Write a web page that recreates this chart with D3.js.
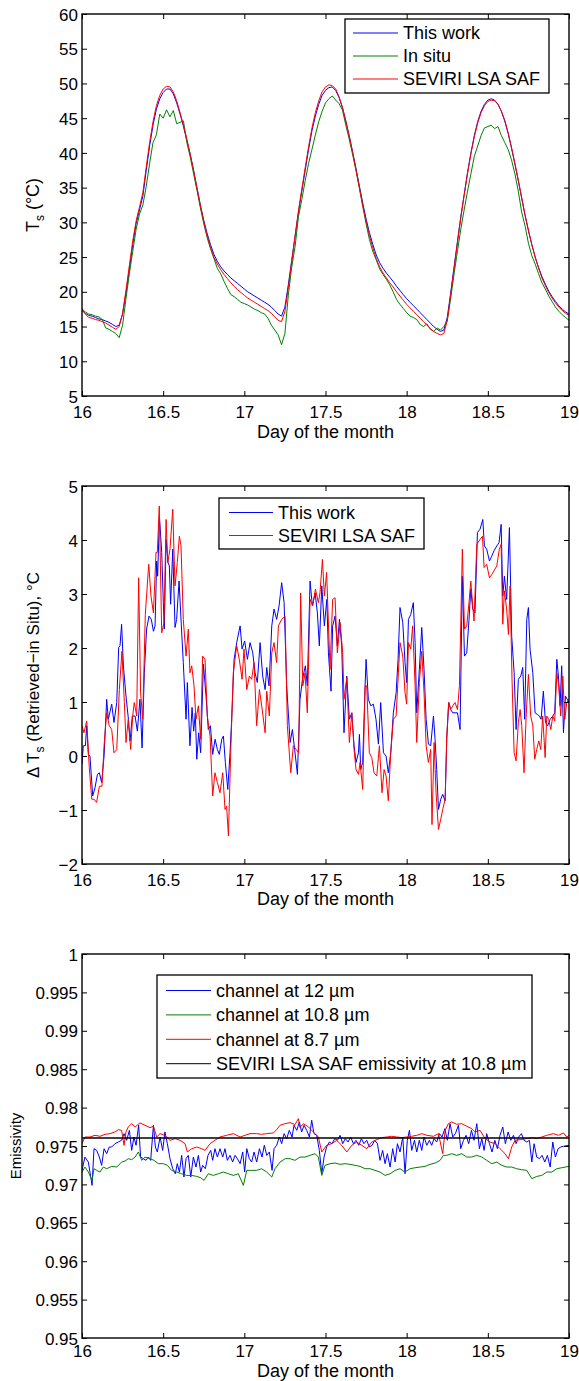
<!DOCTYPE html>
<html>
<head>
<meta charset="utf-8">
<script src="https://cdn.jsdelivr.net/npm/d3@7"></script>
<style>
  html, body { margin: 0; padding: 0; background: #fff; }
  svg { display: block; }
  text { font-family: "Liberation Sans", Arial, Helvetica, sans-serif; fill: #000; }
</style>
</head>
<body>
<svg id="chart" width="579" height="1381"></svg>
<script>
// ---------------- DATA ----------------
const dayTicks = [16, 16.5, 17, 17.5, 18, 18.5, 19];
const dayTickLabels = ["16", "16.5", "17", "17.5", "18", "18.5", "19"];

// Panel 1: surface temperature, 30-minute grid starting at day 16.0
const tsStartDay = 16;
const tsStepDays = 1 / 48;
const tsThisWork = [
  17.3,16.9,16.6,16.5,16.3,16.1,16.0,15.8,15.6,15.3,15.0,15.2,16.8,19.8,23.2,26.8,29.8,31.8,33.8,37.5,41.0,44.0,46.3,47.8,
  48.7,49.2,49.2,48.5,47.2,45.6,43.8,41.8,39.8,37.5,35.0,32.5,30.3,28.4,26.8,25.4,24.4,23.6,23.0,22.5,22.0,21.6,21.2,20.8,
  20.4,20.0,19.7,19.4,19.1,18.8,18.5,18.2,17.8,17.3,16.8,16.5,17.8,21.0,24.5,28.0,31.5,34.5,37.5,40.5,43.2,45.3,47.0,48.3,
  49.0,49.4,49.5,49.0,48.0,46.5,44.6,42.5,40.2,37.8,35.3,32.8,30.5,28.5,26.8,25.3,24.2,23.4,22.7,22.1,21.5,20.8,20.2,19.6,
  19.0,18.5,18.0,17.5,17.0,16.5,16.0,15.5,15.0,14.6,14.3,14.5,16.3,19.8,23.5,27.2,30.8,34.0,37.2,40.0,42.5,44.5,46.0,47.0,
  47.6,47.8,47.6,47.0,46.0,44.6,42.8,40.7,38.4,36.0,33.5,31.0,28.8,26.8,25.0,23.5,22.2,21.1,20.1,19.3,18.6,18.0,17.5,17.1,
  16.8
];
const tsInSitu = [
  17.5,17.1,16.8,16.7,16.5,16.4,16.0,14.8,14.6,14.3,14.0,13.4,15.2,19.0,22.6,25.8,29.0,31.2,32.5,35.2,38.5,41.5,42.6,45.6,
  45.0,46.2,45.2,46.1,44.2,44.4,44.6,41.5,39.4,37.0,34.6,32.1,29.8,27.8,26.2,24.8,23.4,22.6,21.5,20.5,19.6,19.3,18.9,18.5,
  18.3,18.1,17.8,17.5,17.3,17.0,16.8,16.2,15.2,14.5,13.8,12.4,14.0,19.5,23.5,26.5,30.8,33.3,36.0,38.5,40.5,42.6,44.5,46.0,
  47.2,47.8,48.2,47.6,47.1,46.2,44.0,42.0,39.8,37.5,35.0,32.3,29.8,27.5,25.8,24.6,23.3,22.5,21.8,21.0,20.0,18.9,18.2,17.6,
  17.0,16.5,16.3,16.0,15.3,15.0,15.4,14.6,14.3,14.8,14.5,15.0,15.8,19.0,22.5,25.8,29.0,31.8,34.5,37.0,39.5,41.0,42.5,43.6,
  43.8,44.0,43.5,43.8,42.5,41.5,40.5,39.0,37.0,34.5,31.5,29.5,27.0,25.2,24.0,22.6,21.3,20.4,19.4,18.6,17.8,17.2,16.7,16.3,
  15.9
];
const tsSeviri = [
  17.5,16.8,16.3,16.2,16.0,15.9,15.7,15.5,15.2,14.9,14.6,15.0,16.9,20.2,23.8,27.3,30.2,32.2,34.3,38.0,41.5,44.5,46.8,48.3,
  49.2,49.6,49.5,48.8,47.5,45.8,44.0,42.0,39.8,37.4,34.9,32.4,30.1,28.1,26.4,25.0,24.0,23.2,22.5,21.9,21.3,20.8,20.3,19.9,
  19.5,19.1,18.8,18.5,18.2,17.9,17.6,17.3,16.9,16.4,15.9,15.7,17.2,20.6,24.3,28.0,31.6,34.8,37.9,40.9,43.6,45.8,47.5,48.8,
  49.5,49.8,49.7,49.2,48.1,46.6,44.6,42.4,40.1,37.6,35.0,32.5,30.2,28.1,26.3,24.8,23.6,22.7,22.0,21.3,20.7,20.0,19.4,18.8,
  18.2,17.7,17.2,16.7,16.2,15.7,15.2,14.7,14.3,14.0,13.8,14.0,15.9,19.5,23.3,27.0,30.6,33.9,37.0,39.9,42.3,44.3,45.8,46.8,
  47.4,47.6,47.5,47.0,46.0,44.7,42.9,40.8,38.5,36.1,33.6,31.1,28.9,26.8,25.0,23.4,22.0,20.9,19.9,19.1,18.4,17.8,17.3,16.9,
  16.6
];
const tsTicks = [5,10,15,20,25,30,35,40,45,50,55,60];

// Panel 2: Delta Ts (retrieved - in situ), [day, degC]
const dtThisWork = [
  [16.000,-0.15],[16.008,0.19],[16.021,0.19],[16.029,0.56],[16.039,0.03],[16.049,0.00],[16.066,-0.74],[16.080,-0.59],
  [16.095,-0.34],[16.107,-0.31],[16.121,-0.49],[16.136,0.00],[16.152,1.05],[16.162,0.68],[16.183,0.96],[16.197,0.62],
  [16.214,0.99],[16.226,2.01],[16.234,2.04],[16.244,2.44],[16.255,1.67],[16.271,1.11],[16.286,0.68],[16.296,0.28],
  [16.310,0.74],[16.327,0.74],[16.341,0.46],[16.357,1.05],[16.370,0.15],[16.384,1.54],[16.398,2.35],[16.413,2.59],
  [16.427,2.53],[16.440,2.31],[16.450,2.41],[16.460,3.61],[16.466,3.33],[16.477,4.44],[16.491,3.77],[16.501,2.84],
  [16.507,2.35],[16.518,4.01],[16.530,3.58],[16.538,3.52],[16.546,2.81],[16.559,3.83],[16.573,2.38],[16.583,2.53],
  [16.598,3.24],[16.612,2.41],[16.624,1.73],[16.641,0.68],[16.649,1.36],[16.665,0.19],[16.678,0.90],[16.688,0.46],
  [16.698,0.80],[16.707,-0.06],[16.719,0.43],[16.731,0.06],[16.748,1.70],[16.764,1.11],[16.778,0.49],[16.791,0.56],
  [16.805,0.03],[16.820,0.31],[16.834,0.12],[16.846,0.03],[16.861,0.31],[16.871,0.37],[16.883,-0.12],[16.898,-0.62],
  [16.912,0.06],[16.922,0.68],[16.937,1.79],[16.953,2.10],[16.974,2.41],[16.986,1.98],[17.002,2.13],[17.019,1.79],
  [17.035,2.10],[17.052,1.91],[17.066,1.54],[17.080,1.36],[17.097,2.10],[17.113,1.48],[17.128,1.23],[17.138,1.64],
  [17.152,1.30],[17.169,2.41],[17.183,2.72],[17.199,2.53],[17.214,2.78],[17.230,3.21],[17.245,2.84],[17.261,1.30],
  [17.282,0.25],[17.296,0.49],[17.310,0.12],[17.327,-0.34],[17.343,1.05],[17.358,1.42],[17.376,1.67],[17.388,1.30],
  [17.405,3.24],[17.419,2.78],[17.436,3.02],[17.450,2.65],[17.462,2.04],[17.477,3.15],[17.493,2.41],[17.508,2.90],
  [17.518,1.91],[17.534,1.20],[17.544,2.41],[17.559,2.59],[17.573,2.04],[17.586,2.53],[17.600,2.04],[17.614,0.43],
  [17.631,1.48],[17.647,0.68],[17.662,0.80],[17.676,0.19],[17.688,-0.12],[17.703,0.06],[17.709,0.40],[17.717,-0.25],
  [17.729,-0.12],[17.744,1.30],[17.750,1.79],[17.764,1.05],[17.779,0.93],[17.795,0.96],[17.811,0.68],[17.826,0.22],
  [17.840,0.99],[17.857,0.06],[17.873,0.00],[17.887,-0.31],[17.902,0.06],[17.918,0.80],[17.935,1.17],[17.947,1.79],
  [17.959,2.75],[17.976,2.47],[17.990,1.73],[18.000,1.36],[18.011,2.53],[18.025,2.62],[18.041,2.84],[18.052,2.10],
  [18.062,0.80],[18.078,1.60],[18.093,2.38],[18.107,1.60],[18.120,0.68],[18.134,0.22],[18.148,0.19],[18.165,0.74],
  [18.175,0.31],[18.185,-0.25],[18.196,-0.99],[18.210,-0.80],[18.222,-0.71],[18.237,-0.83],[18.247,0.31],[18.259,0.99],
  [18.271,0.86],[18.284,0.80],[18.298,0.80],[18.313,0.80],[18.329,0.49],[18.343,3.33],[18.356,1.85],[18.370,1.91],
  [18.384,2.53],[18.395,3.09],[18.407,2.72],[18.421,2.65],[18.436,4.14],[18.452,4.20],[18.469,4.38],[18.479,3.89],
  [18.493,3.83],[18.510,3.61],[18.524,3.70],[18.538,3.80],[18.555,3.89],[18.569,3.95],[18.582,4.29],[18.592,2.96],
  [18.602,3.33],[18.616,2.90],[18.633,4.23],[18.647,2.22],[18.662,1.54],[18.674,0.49],[18.688,1.42],[18.703,1.48],
  [18.715,1.64],[18.727,0.68],[18.740,2.53],[18.750,2.75],[18.760,1.98],[18.777,1.54],[18.791,0.80],[18.805,0.77],
  [18.818,0.74],[18.828,0.68],[18.842,1.20],[18.855,0.62],[18.869,0.56],[18.884,0.68],[18.900,0.74],[18.912,0.80],
  [18.925,1.79],[18.935,1.48],[18.945,0.93],[18.955,1.67],[18.966,0.43],[18.978,1.11],[19.000,0.99]
];
const dtSeviri = [
  [16.000,0.56],[16.012,0.43],[16.029,0.65],[16.045,-0.22],[16.060,-0.80],[16.074,-0.80],[16.090,-0.86],[16.107,-0.56],
  [16.123,-0.56],[16.136,0.19],[16.152,0.80],[16.168,0.56],[16.183,0.49],[16.197,0.06],[16.214,0.12],[16.230,1.23],
  [16.246,1.94],[16.261,0.99],[16.271,0.25],[16.285,0.68],[16.300,0.12],[16.312,0.74],[16.322,0.99],[16.337,0.74],
  [16.349,3.30],[16.361,1.17],[16.374,0.68],[16.390,2.62],[16.411,3.55],[16.425,2.96],[16.440,2.65],[16.456,3.77],
  [16.464,3.77],[16.476,4.63],[16.491,2.28],[16.505,2.47],[16.518,4.38],[16.528,3.58],[16.542,3.83],[16.559,4.57],
  [16.573,3.15],[16.587,3.58],[16.600,4.07],[16.610,3.89],[16.624,2.53],[16.641,1.85],[16.655,2.35],[16.665,1.54],
  [16.676,1.67],[16.690,1.30],[16.702,0.68],[16.717,0.93],[16.731,0.31],[16.743,1.85],[16.758,1.79],[16.772,0.74],
  [16.789,0.37],[16.805,-0.74],[16.819,-0.31],[16.834,-0.49],[16.850,-0.68],[16.867,-0.31],[16.881,-0.99],[16.891,-0.93],
  [16.902,-1.48],[16.916,0.06],[16.932,1.54],[16.953,2.04],[16.969,1.79],[16.986,1.42],[16.998,1.98],[17.015,1.23],
  [17.031,1.48],[17.045,1.42],[17.060,1.73],[17.076,0.56],[17.093,1.23],[17.107,0.93],[17.128,0.43],[17.138,1.20],
  [17.154,0.74],[17.169,1.91],[17.183,2.10],[17.199,1.73],[17.210,2.41],[17.230,2.53],[17.251,2.59],[17.265,0.56],
  [17.286,-0.31],[17.302,0.19],[17.319,0.12],[17.335,0.06],[17.347,3.02],[17.360,1.30],[17.374,1.54],[17.388,0.80],
  [17.405,2.90],[17.421,2.78],[17.438,3.09],[17.456,2.84],[17.466,3.02],[17.481,3.64],[17.493,2.96],[17.507,3.40],
  [17.528,1.60],[17.544,2.90],[17.559,2.93],[17.573,1.91],[17.590,2.47],[17.606,1.91],[17.614,1.05],[17.631,1.45],
  [17.647,0.25],[17.662,0.80],[17.676,0.12],[17.688,-0.25],[17.703,-0.34],[17.713,-0.12],[17.729,-0.62],[17.744,1.30],
  [17.754,1.30],[17.770,0.06],[17.785,-0.03],[17.799,-0.31],[17.816,-0.37],[17.832,0.19],[17.848,-0.68],[17.861,-0.25],
  [17.873,-0.37],[17.887,-0.83],[17.902,0.06],[17.918,0.68],[17.935,0.74],[17.949,1.54],[17.959,2.10],[17.976,1.85],
  [17.990,1.17],[18.000,0.96],[18.011,2.10],[18.025,1.98],[18.037,2.41],[18.052,1.30],[18.062,0.25],[18.078,1.36],
  [18.093,1.94],[18.107,1.17],[18.120,0.19],[18.134,-0.12],[18.148,0.12],[18.156,-1.27],[18.169,0.25],[18.181,-0.68],
  [18.196,-1.36],[18.210,-1.17],[18.222,-0.99],[18.237,-0.80],[18.247,0.37],[18.259,0.99],[18.271,0.86],[18.284,0.93],
  [18.298,0.99],[18.313,0.86],[18.325,1.30],[18.343,3.83],[18.356,2.35],[18.370,2.41],[18.384,2.84],[18.395,3.24],
  [18.407,2.78],[18.415,2.50],[18.432,3.92],[18.452,4.01],[18.467,4.07],[18.477,3.49],[18.493,3.55],[18.510,3.30],
  [18.524,3.36],[18.538,3.43],[18.555,3.52],[18.571,3.83],[18.582,3.92],[18.592,2.44],[18.602,3.06],[18.616,2.72],
  [18.627,2.25],[18.637,3.15],[18.649,1.42],[18.662,0.06],[18.674,-0.09],[18.688,0.62],[18.699,0.86],[18.709,0.56],
  [18.723,-0.31],[18.736,0.74],[18.750,1.51],[18.764,0.74],[18.777,0.56],[18.789,-0.06],[18.801,0.12],[18.814,0.28],
  [18.826,0.12],[18.838,0.74],[18.853,-0.03],[18.863,0.74],[18.875,0.68],[18.888,0.49],[18.900,0.74],[18.912,0.65],
  [18.925,1.54],[18.937,1.30],[18.949,0.74],[18.962,1.48],[18.974,0.68],[18.986,0.99],[19.000,1.05]
];
const dtTicks = [-2,-1,0,1,2,3,4,5];
const dtTickLabels = ["\u22122","\u22121","0","1","2","3","4","5"];

// Panel 3: emissivity, [day, emissivity]
const em12 = [
  [16.000,0.97183],[16.018,0.97356],[16.039,0.97291],[16.049,0.97161],[16.062,0.96987],[16.074,0.97465],[16.090,0.97443],
  [16.107,0.97356],[16.121,0.97248],[16.136,0.97465],[16.152,0.97400],[16.168,0.97487],[16.183,0.97487],[16.203,0.97530],
  [16.224,0.97552],[16.244,0.97574],[16.259,0.97661],[16.275,0.97574],[16.292,0.97704],[16.306,0.97443],[16.320,0.97617],
  [16.333,0.97509],[16.349,0.97770],[16.361,0.97356],[16.378,0.97335],[16.394,0.97313],[16.409,0.97356],[16.423,0.97313],
  [16.440,0.97770],[16.452,0.97487],[16.464,0.97422],[16.481,0.97617],[16.497,0.97443],[16.511,0.97683],[16.526,0.97530],
  [16.542,0.97335],[16.559,0.97204],[16.575,0.97139],[16.587,0.97270],[16.600,0.97161],[16.614,0.97378],[16.628,0.97096],
  [16.641,0.97335],[16.655,0.97378],[16.670,0.97096],[16.686,0.97356],[16.702,0.97226],[16.717,0.97378],[16.731,0.97161],
  [16.743,0.97248],[16.760,0.97204],[16.776,0.97378],[16.793,0.97443],[16.805,0.97313],[16.819,0.97465],[16.834,0.97356],
  [16.850,0.97465],[16.867,0.97356],[16.881,0.97465],[16.895,0.97313],[16.912,0.97378],[16.928,0.97291],[16.943,0.97378],
  [16.957,0.97335],[16.974,0.97270],[16.990,0.97422],[17.002,0.97161],[17.015,0.97465],[17.031,0.97335],[17.045,0.97291],
  [17.060,0.97422],[17.076,0.97291],[17.093,0.97465],[17.109,0.97356],[17.123,0.97509],[17.138,0.97378],[17.154,0.97422],
  [17.171,0.97183],[17.183,0.97465],[17.199,0.97509],[17.216,0.97617],[17.230,0.97530],[17.245,0.97661],[17.261,0.97596],
  [17.277,0.97704],[17.294,0.97617],[17.306,0.97770],[17.323,0.97704],[17.339,0.97813],[17.353,0.97683],[17.368,0.97770],
  [17.384,0.97704],[17.401,0.97617],[17.415,0.97835],[17.429,0.97661],[17.446,0.97639],[17.462,0.97443],[17.477,0.97139],
  [17.491,0.97356],[17.507,0.97487],[17.524,0.97552],[17.540,0.97530],[17.557,0.97596],[17.573,0.97574],[17.590,0.97639],
  [17.606,0.97530],[17.622,0.97596],[17.639,0.97552],[17.655,0.97617],[17.672,0.97530],[17.688,0.97574],[17.705,0.97509],
  [17.721,0.97596],[17.737,0.97530],[17.754,0.97574],[17.770,0.97487],[17.787,0.97509],[17.803,0.97574],[17.820,0.97530],
  [17.836,0.97313],[17.852,0.97443],[17.867,0.97270],[17.881,0.97400],[17.898,0.97226],[17.914,0.97465],[17.929,0.97291],
  [17.943,0.97530],[17.959,0.97422],[17.976,0.97617],[17.990,0.97139],[18.004,0.97574],[18.017,0.97704],[18.031,0.97443],
  [18.048,0.97574],[18.062,0.97422],[18.078,0.97574],[18.093,0.97443],[18.107,0.97617],[18.124,0.97509],[18.140,0.97574],
  [18.154,0.97509],[18.169,0.97596],[18.185,0.97552],[18.202,0.97661],[18.218,0.97617],[18.235,0.97726],[18.251,0.97574],
  [18.267,0.97791],[18.284,0.97617],[18.300,0.97661],[18.319,0.97770],[18.333,0.97465],[18.350,0.97574],[18.366,0.97639],
  [18.382,0.97530],[18.399,0.97704],[18.415,0.97574],[18.432,0.97791],[18.448,0.97465],[18.463,0.97596],[18.477,0.97443],
  [18.493,0.97661],[18.510,0.97530],[18.526,0.97422],[18.543,0.97574],[18.559,0.97465],[18.575,0.97639],[18.592,0.97748],
  [18.608,0.97530],[18.625,0.97683],[18.641,0.97574],[18.658,0.97639],[18.674,0.97530],[18.690,0.97617],[18.707,0.97661],
  [18.723,0.97574],[18.740,0.97552],[18.756,0.97574],[18.771,0.97291],[18.785,0.97530],[18.801,0.97356],[18.818,0.97335],
  [18.834,0.97378],[18.851,0.97291],[18.867,0.97378],[18.884,0.97226],[18.900,0.97552],[18.916,0.97356],[18.933,0.97465],
  [18.949,0.97487],[18.966,0.97496],[19.000,0.97509]
];
const em108 = [
  [16.000,0.97161],[16.018,0.97226],[16.039,0.97161],[16.062,0.97052],[16.074,0.97204],[16.090,0.97183],[16.111,0.97161],
  [16.131,0.97226],[16.152,0.97204],[16.183,0.97235],[16.214,0.97226],[16.244,0.97291],[16.265,0.97304],[16.285,0.97335],
  [16.306,0.97322],[16.327,0.97356],[16.347,0.97422],[16.368,0.97313],[16.388,0.97356],[16.419,0.97335],[16.444,0.97313],
  [16.470,0.97270],[16.501,0.97270],[16.526,0.97248],[16.552,0.97183],[16.583,0.97161],[16.614,0.97139],[16.645,0.97117],
  [16.676,0.97117],[16.707,0.97104],[16.731,0.97087],[16.752,0.97052],[16.778,0.97139],[16.809,0.97117],[16.840,0.97139],
  [16.871,0.97161],[16.902,0.97139],[16.932,0.97117],[16.963,0.97139],[16.994,0.96987],[17.015,0.97183],[17.045,0.97183],
  [17.076,0.97183],[17.107,0.97204],[17.138,0.97161],[17.169,0.97096],[17.189,0.97204],[17.220,0.97291],[17.251,0.97335],
  [17.282,0.97335],[17.312,0.97313],[17.343,0.97356],[17.374,0.97356],[17.405,0.97378],[17.436,0.97400],[17.456,0.97356],
  [17.477,0.97117],[17.497,0.97248],[17.528,0.97270],[17.559,0.97278],[17.590,0.97261],[17.620,0.97270],[17.651,0.97261],
  [17.682,0.97248],[17.713,0.97235],[17.744,0.97204],[17.775,0.97204],[17.805,0.97183],[17.836,0.97161],[17.867,0.97117],
  [17.898,0.97139],[17.929,0.97183],[17.959,0.97204],[17.990,0.97161],[18.021,0.97204],[18.052,0.97217],[18.083,0.97226],
  [18.113,0.97235],[18.144,0.97261],[18.175,0.97278],[18.206,0.97313],[18.226,0.97378],[18.247,0.97378],[18.278,0.97400],
  [18.308,0.97378],[18.339,0.97400],[18.370,0.97356],[18.401,0.97356],[18.432,0.97378],[18.463,0.97356],[18.493,0.97313],
  [18.524,0.97270],[18.555,0.97291],[18.586,0.97248],[18.617,0.97226],[18.647,0.97226],[18.678,0.97204],[18.709,0.97191],
  [18.740,0.97183],[18.771,0.97074],[18.801,0.97104],[18.832,0.97117],[18.863,0.97161],[18.894,0.97161],[18.925,0.97204],
  [18.955,0.97217],[19.000,0.97235]
];
const em87 = [
  [16.000,0.97530],[16.018,0.97617],[16.049,0.97617],[16.080,0.97639],[16.111,0.97626],[16.142,0.97652],[16.173,0.97661],
  [16.203,0.97683],[16.224,0.97713],[16.244,0.97704],[16.259,0.97509],[16.271,0.97683],[16.285,0.97748],[16.306,0.97791],
  [16.327,0.97748],[16.357,0.97800],[16.388,0.97770],[16.419,0.97739],[16.440,0.97757],[16.460,0.97617],[16.481,0.97661],
  [16.511,0.97639],[16.542,0.97574],[16.573,0.97596],[16.604,0.97574],[16.635,0.97530],[16.649,0.97422],[16.676,0.97465],
  [16.707,0.97487],[16.737,0.97465],[16.758,0.97443],[16.789,0.97530],[16.819,0.97574],[16.850,0.97617],[16.891,0.97639],
  [16.932,0.97661],[16.974,0.97617],[17.004,0.97639],[17.035,0.97661],[17.076,0.97661],[17.107,0.97652],[17.138,0.97661],
  [17.179,0.97670],[17.199,0.97713],[17.220,0.97770],[17.251,0.97791],[17.282,0.97804],[17.312,0.97778],[17.333,0.97856],
  [17.343,0.97739],[17.364,0.97791],[17.395,0.97748],[17.425,0.97683],[17.456,0.97617],[17.477,0.97422],[17.507,0.97509],
  [17.538,0.97530],[17.569,0.97574],[17.600,0.97509],[17.631,0.97422],[17.662,0.97509],[17.692,0.97552],[17.723,0.97509],
  [17.754,0.97465],[17.785,0.97552],[17.816,0.97583],[17.846,0.97609],[17.877,0.97617],[17.908,0.97626],[17.939,0.97617],
  [17.970,0.97609],[18.000,0.97617],[18.031,0.97626],[18.062,0.97639],[18.093,0.97661],[18.124,0.97639],[18.165,0.97626],
  [18.196,0.97661],[18.222,0.97400],[18.237,0.97704],[18.257,0.97791],[18.278,0.97813],[18.308,0.97783],[18.339,0.97791],
  [18.370,0.97757],[18.401,0.97726],[18.421,0.97683],[18.452,0.97704],[18.483,0.97596],[18.514,0.97552],[18.545,0.97530],
  [18.575,0.97465],[18.606,0.97400],[18.627,0.97335],[18.647,0.97487],[18.668,0.97574],[18.699,0.97583],[18.740,0.97596],
  [18.771,0.97609],[18.801,0.97596],[18.832,0.97617],[18.863,0.97639],[18.904,0.97661],[18.935,0.97639],[18.966,0.97670],
  [18.986,0.97617],[19.000,0.97639]
];
const emSeviri = [[16, 0.97605], [19, 0.97605]];
const emTicks = [0.95,0.955,0.96,0.965,0.97,0.975,0.98,0.985,0.99,0.995,1];
const emTickLabels = ["0.95","0.955","0.96","0.965","0.97","0.975","0.98","0.985","0.99","0.995","1"];

// ---------------- DRAWING ----------------
const svg = d3.select("#chart");
const TICK_FONT = 17;
const TITLE_FONT = 18;
const LEGEND_FONT = 18;
const left = 82, right = 569;
const BLUE = "#0000ff", GREEN = "#008000", RED = "#ff0000", BLACK = "#000000";

function panel(cfg) {
  const x = d3.scaleLinear().domain([16, 19]).range([left, right]);
  const y = d3.scaleLinear().domain(cfg.yDomain).range([cfg.bottom, cfg.top]);
  const g = svg.append("g");
  const clipId = "clip" + cfg.id;
  svg.append("clipPath").attr("id", clipId).append("rect")
    .attr("x", left).attr("y", cfg.top).attr("width", right - left).attr("height", cfg.bottom - cfg.top);

  const line = d3.line().x(d => x(d[0])).y(d => y(d[1]));
  const plot = g.append("g").attr("clip-path", `url(#${clipId})`);
  cfg.series.forEach(s => {
    plot.append("path").datum(s.data).attr("d", line)
      .attr("fill", "none").attr("stroke", s.color).attr("stroke-width", s.width || 1)
      .attr("stroke-linejoin", "round");
  });

  // axes (ticks inside, mirrored on top and right)
  const tl = 5;
  const axB = d3.axisBottom(x).tickValues(dayTicks).tickFormat((d, i) => dayTickLabels[i]).tickSizeInner(-tl).tickSizeOuter(0);
  const axT = d3.axisTop(x).tickValues(dayTicks).tickFormat("").tickSizeInner(-tl).tickSizeOuter(0);
  const axL = d3.axisLeft(y).tickValues(cfg.yTicks).tickFormat((d, i) => cfg.yLabels[i]).tickSizeInner(-tl).tickSizeOuter(0).tickPadding(4);
  const axR = d3.axisRight(y).tickValues(cfg.yTicks).tickFormat("").tickSizeInner(-tl).tickSizeOuter(0);

  const gb = g.append("g").attr("transform", `translate(0,${cfg.bottom})`).call(axB);
  const gt = g.append("g").attr("transform", `translate(0,${cfg.top})`).call(axT);
  const gl = g.append("g").attr("transform", `translate(${left},0)`).call(axL);
  const gr = g.append("g").attr("transform", `translate(${right},0)`).call(axR);
  [gb, gt, gl, gr].forEach(a => {
    a.select(".domain").remove();
    a.selectAll("line").attr("stroke", "#000").attr("stroke-width", 1);
    a.selectAll("text").attr("font-size", TICK_FONT).attr("fill", "#000")
      .style("font-family", '"Liberation Sans", Arial, Helvetica, sans-serif');
  });
  gb.selectAll("text").attr("y", cfg.tickBaseline).attr("dy", 0);
  gl.selectAll("text").attr("dy", "0.36em");

  g.append("rect").attr("x", left).attr("y", cfg.top).attr("width", right - left).attr("height", cfg.bottom - cfg.top)
    .attr("fill", "none").attr("stroke", "#000").attr("stroke-width", 1.4);

  // x label
  g.append("text").attr("x", (left + right) / 2).attr("y", cfg.xLabelY).attr("text-anchor", "middle")
    .attr("font-size", TITLE_FONT).text("Day of the month");

  // legend
  const L = cfg.legend;
  g.append("rect").attr("x", L.x).attr("y", L.y).attr("width", L.w).attr("height", L.h)
    .attr("fill", "#fff").attr("stroke", "#000").attr("stroke-width", 1.3);
  L.items.forEach((it, i) => {
    const yy = L.firstRow + i * L.rowStep;
    g.append("line").attr("x1", L.lineX1).attr("x2", L.lineX2).attr("y1", yy).attr("y2", yy)
      .attr("stroke", it.color).attr("stroke-width", 1);
    g.append("text").attr("x", L.textX).attr("y", yy).attr("dy", "0.36em").attr("font-size", LEGEND_FONT)
      .text(it.label);
  });
  return g;
}

// Panel 1
const tsSeries = arr => arr.map((v, i) => [tsStartDay + i * tsStepDays, v]);
const p1 = panel({
  id: 1, top: 14, bottom: 396, yDomain: [5, 60], yTicks: tsTicks, yLabels: tsTicks.map(String),
  tickBaseline: 22, xLabelY: 438,
  series: [
    { data: tsSeries(tsThisWork), color: BLUE },
    { data: tsSeries(tsInSitu), color: GREEN },
    { data: tsSeries(tsSeviri), color: RED }
  ],
  legend: { x: 345, y: 19, w: 204, h: 74, firstRow: 33, rowStep: 23, lineX1: 353, lineX2: 398, textX: 403,
    items: [{ label: "This work", color: BLUE }, { label: "In situ", color: GREEN }, { label: "SEVIRI LSA SAF", color: RED }] }
});
const y1t = p1.append("text").attr("transform", "translate(39,205) rotate(-90)").attr("text-anchor", "middle").attr("font-size", TITLE_FONT);
y1t.append("tspan").text("T");
y1t.append("tspan").attr("font-size", 12).attr("dy", 5).text("s");
y1t.append("tspan").attr("dy", -5).text(" (\u00B0C)");

// Panel 2
const p2 = panel({
  id: 2, top: 486, bottom: 864, yDomain: [-2, 5], yTicks: dtTicks, yLabels: dtTickLabels,
  tickBaseline: 22, xLabelY: 905,
  series: [
    { data: dtThisWork, color: BLUE },
    { data: dtSeviri, color: RED }
  ],
  legend: { x: 219, y: 498, w: 205, h: 51, firstRow: 512.5, rowStep: 23, lineX1: 229, lineX2: 273, textX: 278,
    items: [{ label: "This work", color: BLUE }, { label: "SEVIRI LSA SAF", color: RED }] }
});
const y2t = p2.append("text").attr("transform", "translate(39,675) rotate(-90)").attr("text-anchor", "middle").attr("font-size", 17);
y2t.append("tspan").text("\u0394 T");
y2t.append("tspan").attr("font-size", 12).attr("dy", 5).text("s");
y2t.append("tspan").attr("dy", -5).text(" (Retrieved\u2212in Situ), \u00B0C");

// Panel 3
const p3 = panel({
  id: 3, top: 954, bottom: 1338, yDomain: [0.95, 1], yTicks: emTicks, yLabels: emTickLabels,
  tickBaseline: 19, xLabelY: 1377,
  series: [
    { data: em12, color: BLUE },
    { data: em108, color: GREEN },
    { data: em87, color: RED },
    { data: emSeviri, color: BLACK, width: 1.6 }
  ],
  legend: { x: 157, y: 975, w: 375, h: 103, firstRow: 990.5, rowStep: 24.4, lineX1: 166, lineX2: 211, textX: 216,
    items: [{ label: "channel at 12 \u00B5m", color: BLUE }, { label: "channel at 10.8 \u00B5m", color: GREEN },
            { label: "channel at 8.7 \u00B5m", color: RED }, { label: "SEVIRI LSA SAF emissivity at 10.8 \u00B5m", color: BLACK }] }
});
p3.append("text").attr("transform", "translate(21,1146) rotate(-90)").attr("text-anchor", "middle").attr("font-size", 15)
  .text("Emissivity");
</script>
</body>
</html>
